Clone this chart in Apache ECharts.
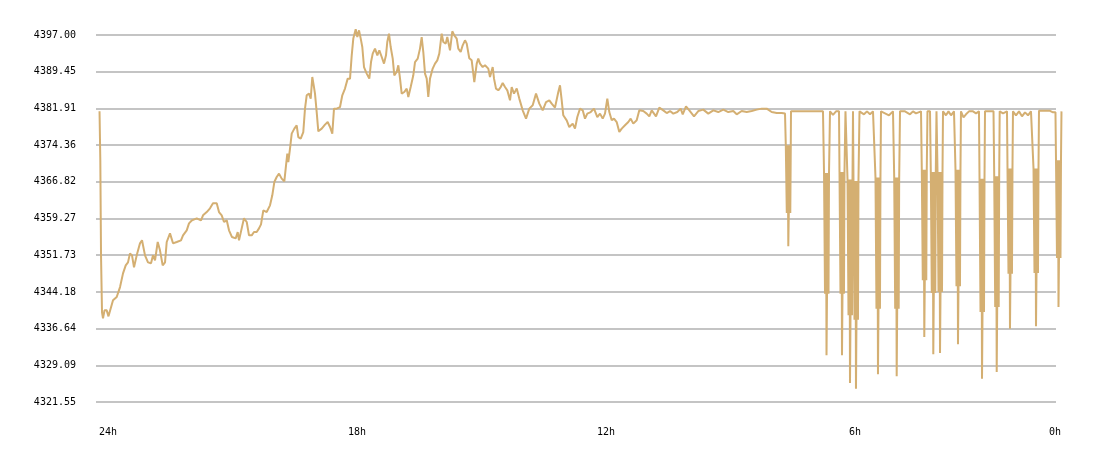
<!DOCTYPE html>
<html>
<head>
<meta charset="utf-8">
<script src="https://cdn.jsdelivr.net/npm/echarts@6/dist/echarts.min.js"></script>
<style>
  html, body { margin: 0; padding: 0; background: #ffffff; }
  #chart { width: 1100px; height: 458px; }
</style>
</head>
<body>
<div id="chart"></div>
<script>
// Y tick labels (price)
const yTicks = [4321.55, 4329.09, 4336.64, 4344.18, 4351.73, 4359.27, 4366.82, 4374.36, 4381.91, 4389.45, 4397.00];
// X tick positions (hours ago) and their labels
const xTickHours = [24, 18, 12, 6, 1.18];
const xTickLabels = ['24h', '18h', '12h', '6h', '0h'];

// Main price trace: [hours ago, price]
const priceTrace = [
[24.204,4381.31],[24.185,4371.23],[24.168,4351.70],[24.144,4339.98],[24.120,4338.75],[24.084,4340.39],[24.031,4340.39],[23.988,4339.16],[23.951,4339.37],[23.879,4342.45],[23.790,4343.13],[23.710,4345.18],[23.638,4348.00],[23.573,4349.65],[23.518,4350.26],[23.470,4352.11],[23.421,4351.70],[23.373,4349.24],[23.308,4351.70],[23.229,4354.17],[23.180,4354.79],[23.108,4351.70],[23.036,4350.26],[22.963,4350.06],[22.915,4351.70],[22.867,4350.67],[22.802,4354.44],[22.747,4352.73],[22.682,4349.65],[22.626,4350.26],[22.585,4354.44],[22.506,4356.22],[22.433,4354.17],[22.344,4354.44],[22.241,4354.79],[22.192,4355.81],[22.103,4356.84],[22.048,4358.28],[21.976,4358.90],[21.862,4359.31],[21.759,4358.90],[21.710,4359.93],[21.621,4360.60],[21.542,4361.37],[21.470,4362.39],[21.380,4362.39],[21.325,4360.60],[21.260,4359.93],[21.204,4358.55],[21.139,4358.90],[21.084,4356.84],[21.012,4355.46],[20.923,4355.20],[20.874,4356.49],[20.843,4354.79],[20.778,4357.25],[20.723,4359.31],[20.657,4358.55],[20.602,4355.81],[20.537,4355.81],[20.482,4356.49],[20.417,4356.49],[20.361,4357.25],[20.313,4358.07],[20.257,4360.95],[20.176,4360.60],[20.096,4361.98],[20.041,4364.04],[19.992,4366.77],[19.935,4367.80],[19.879,4368.50],[19.814,4367.47],[19.751,4366.92],[19.710,4370.21],[19.679,4372.61],[19.655,4370.89],[19.614,4373.64],[19.573,4376.72],[19.510,4377.75],[19.453,4378.43],[19.414,4376.02],[19.356,4375.69],[19.294,4377.05],[19.253,4381.86],[19.212,4384.60],[19.156,4384.95],[19.115,4383.92],[19.077,4388.36],[19.043,4386.65],[19.012,4384.95],[18.971,4381.16],[18.932,4377.20],[18.850,4377.75],[18.771,4378.57],[18.706,4379.11],[18.650,4378.08],[18.595,4376.72],[18.554,4381.86],[18.489,4381.86],[18.409,4382.19],[18.354,4384.60],[18.289,4385.98],[18.224,4388.03],[18.168,4388.03],[18.127,4392.82],[18.089,4396.26],[18.031,4398.17],[17.992,4396.58],[17.951,4397.96],[17.910,4396.26],[17.872,4394.53],[17.831,4390.42],[17.766,4389.06],[17.703,4388.03],[17.662,4391.44],[17.621,4393.17],[17.566,4394.20],[17.510,4392.82],[17.462,4393.85],[17.404,4392.47],[17.349,4391.12],[17.301,4392.82],[17.270,4395.56],[17.229,4397.28],[17.188,4394.53],[17.139,4392.14],[17.101,4388.71],[17.043,4389.39],[17.004,4390.77],[16.963,4388.03],[16.923,4384.95],[16.860,4385.28],[16.802,4385.98],[16.763,4384.25],[16.706,4386.30],[16.643,4388.71],[16.602,4391.44],[16.537,4392.14],[16.482,4394.20],[16.441,4396.58],[16.402,4393.50],[16.361,4389.06],[16.320,4388.03],[16.282,4384.25],[16.241,4388.03],[16.176,4390.09],[16.120,4391.12],[16.065,4391.79],[16.017,4393.17],[15.959,4397.28],[15.920,4395.56],[15.862,4395.23],[15.824,4396.58],[15.759,4393.85],[15.703,4397.76],[15.655,4396.93],[15.597,4396.26],[15.559,4394.20],[15.501,4393.50],[15.453,4394.88],[15.397,4395.91],[15.356,4395.23],[15.294,4392.21],[15.236,4391.79],[15.173,4387.33],[15.115,4391.12],[15.077,4392.14],[15.036,4391.12],[14.971,4390.42],[14.915,4390.77],[14.836,4390.09],[14.795,4388.36],[14.730,4390.42],[14.698,4388.03],[14.650,4385.98],[14.595,4385.63],[14.537,4386.30],[14.489,4387.13],[14.433,4386.30],[14.378,4385.63],[14.313,4383.57],[14.272,4386.30],[14.217,4384.95],[14.151,4385.98],[14.089,4383.92],[14.007,4381.51],[13.927,4379.81],[13.848,4381.86],[13.766,4382.54],[13.686,4384.95],[13.607,4382.89],[13.525,4381.51],[13.445,4383.22],[13.366,4383.57],[13.308,4382.89],[13.229,4382.07],[13.149,4385.28],[13.108,4386.65],[13.067,4383.57],[13.029,4380.49],[12.947,4379.46],[12.884,4378.08],[12.802,4378.78],[12.747,4377.75],[12.691,4380.14],[12.626,4381.86],[12.561,4381.51],[12.506,4379.81],[12.450,4380.84],[12.368,4381.16],[12.289,4381.86],[12.241,4382.19],[12.209,4380.14],[12.144,4380.84],[12.079,4379.81],[12.024,4380.84],[11.968,4383.92],[11.920,4381.16],[11.862,4379.46],[11.807,4379.81],[11.742,4379.11],[11.679,4377.05],[11.621,4377.75],[11.542,4378.43],[11.462,4379.11],[11.405,4379.81],[11.342,4378.78],[11.260,4379.46],[11.197,4381.51],[11.101,4381.37],[11.019,4380.84],[10.956,4380.28],[10.898,4381.51],[10.795,4380.28],[10.715,4382.07],[10.619,4381.51],[10.537,4380.96],[10.457,4381.37],[10.378,4380.84],[10.282,4381.16],[10.200,4381.86],[10.151,4380.69],[10.072,4382.34],[9.992,4381.51],[9.879,4380.28],[9.776,4381.37],[9.655,4381.66],[9.535,4380.84],[9.414,4381.51],[9.294,4381.16],[9.173,4381.66],[9.053,4381.16],[8.932,4381.37],[8.850,4380.69],[8.730,4381.37],[8.609,4381.16],[8.489,4381.37],[8.368,4381.66],[8.248,4381.86],[8.127,4381.86],[8.007,4381.16],[7.886,4380.96],[7.766,4380.96],[7.686,4380.84]
];

// Flat stretch between glitches: [hours ago, price]
const flatTrace = [
[7.542,4381.3],[7.325,4381.3],[7.084,4381.3],[6.843,4381.3],[6.771,4381.3],[6.602,4381.3],[6.530,4380.59],[6.457,4381.3],[6.385,4381.3],[6.229,4381.3],[6.048,4381.3],[5.891,4381.3],[5.783,4380.69],[5.711,4381.3],[5.638,4380.69],[5.566,4381.3],[5.518,4381.3],[5.373,4381.3],[5.277,4380.90],[5.180,4380.49],[5.084,4381.3],[4.915,4381.3],[4.795,4381.3],[4.674,4380.69],[4.602,4381.3],[4.530,4380.90],[4.409,4381.3],[4.253,4381.3],[4.192,4381.3],[4.036,4381.3],[3.879,4381.3],[3.807,4380.49],[3.747,4381.3],[3.686,4380.49],[3.614,4381.3],[3.590,4381.3],[3.446,4381.3],[3.385,4380.07],[3.325,4380.69],[3.253,4381.3],[3.156,4381.3],[3.084,4380.90],[3.012,4381.3],[2.867,4381.3],[2.747,4381.3],[2.662,4381.3],[2.513,4381.3],[2.433,4380.90],[2.337,4381.3],[2.193,4381.3],[2.120,4380.49],[2.048,4381.3],[1.976,4380.28],[1.903,4381.10],[1.831,4380.49],[1.759,4381.3],[1.711,4381.3],[1.566,4381.41],[1.422,4381.41],[1.301,4381.41],[1.229,4381.10],[1.169,4381.10],[1.024,4381.3]
];

// Glitch spikes: time (hours ago), upper level, lower level, lowest tick
const spikeHours = [7.607, 6.686, 6.313, 6.120, 5.976, 5.446, 4.995, 4.330, 4.113, 3.951, 3.518, 2.939, 2.585, 2.265, 1.638, 1.096];
const spikeHigh  = [4374.32, 4368.62, 4368.83, 4367.27, 4366.98, 4367.68, 4367.68, 4369.32, 4368.83, 4368.83, 4369.32, 4367.47, 4367.94, 4369.53, 4369.53, 4371.23];
const spikeLow   = [4360.40, 4343.83, 4343.83, 4339.37, 4338.48, 4340.74, 4340.74, 4346.56, 4343.95, 4344.16, 4345.33, 4340.05, 4341.07, 4347.94, 4348.07, 4351.15];
const spikeMin   = [4353.55, 4331.14, 4331.14, 4325.45, 4324.30, 4327.24, 4326.83, 4334.91, 4331.35, 4331.62, 4333.40, 4326.35, 4327.71, 4336.63, 4337.11, 4341.07];

// sequence of ticks inside one glitch burst (time offset in hours, which level)
const burstPattern = [[0.060,'h'],[0.036,'l'],[0.012,'h'],[0,'m'],[-0.012,'l'],[-0.036,'h'],[-0.048,'l'],[-0.060,'h']];

const points = priceTrace.concat(flatTrace);
spikeHours.forEach((t, i) => {
  burstPattern.forEach(([dt, lvl]) => {
    const v = lvl === 'h' ? spikeHigh[i] : (lvl === 'l' ? spikeLow[i] : spikeMin[i]);
    points.push([+(t + dt).toFixed(3), v]);
  });
});
points.sort((a, b) => b[0] - a[0]);

const chart = echarts.init(document.getElementById('chart'), null, { renderer: 'canvas' });
chart.setOption({
  animation: false,
  backgroundColor: '#ffffff',
  grid: { left: 96, right: 38.35, top: 35, bottom: 56, containLabel: false },
  xAxis: {
    type: 'value',
    inverse: true,
    min: 1.02,
    max: 24.289,
    axisLine: { show: false },
    axisTick: { show: false, customValues: xTickHours },
    splitLine: { show: false },
    axisLabel: {
      customValues: xTickHours,
      formatter: (v) => {
        const i = xTickHours.findIndex(x => Math.abs(x - v) < 1e-6);
        return i >= 0 ? xTickLabels[i] : '';
      },
      margin: 25,
      fontFamily: 'DejaVu Sans Mono',
      fontSize: 10,
      color: '#000'
    }
  },
  yAxis: {
    type: 'value',
    min: 4321.55,
    max: 4397.00,
    axisLine: { show: false },
    axisTick: { show: false, customValues: yTicks },
    splitLine: { show: true, lineStyle: { color: '#c4c4c4', width: 2 } },
    axisLabel: {
      customValues: yTicks,
      formatter: (v) => v.toFixed(2),
      margin: 20,
      fontFamily: 'DejaVu Sans Mono',
      fontSize: 10,
      color: '#000'
    }
  },
  // white mask: gridlines stop at the "0h" position while the last spike continues a few pixels further
  graphic: [{
    type: 'rect',
    z: 1,
    silent: true,
    shape: { x: 1056, y: 28, width: 10, height: 380 },
    style: { fill: '#ffffff' }
  }],
  series: [{
    type: 'line',
    data: points,
    showSymbol: false,
    symbol: 'none',
    clip: false,
    z: 3,
    lineStyle: { color: '#d4af72', width: 2 }
  }]
});
</script>
</body>
</html>
